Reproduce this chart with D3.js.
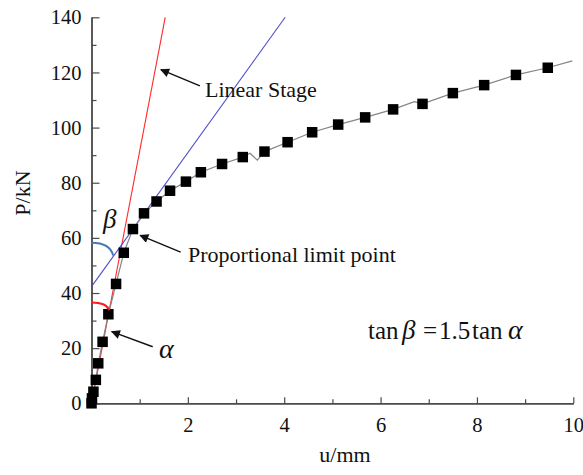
<!DOCTYPE html>
<html>
<head>
<meta charset="utf-8">
<script src="https://cdn.jsdelivr.net/npm/d3@7"></script>
<style>
  html, body { margin: 0; padding: 0; background: #fff; }
  svg { display: block; }
  text { font-family: "Liberation Serif", "Times New Roman", Times, Tinos, "DejaVu Serif", "Noto Serif", serif; fill: #111; }
</style>
</head>
<body>
<svg id="chart" width="583" height="475"></svg>
<script>
// Load–displacement test record (u in mm, P in kN)
const markerU = [0.00, 0.01, 0.04, 0.09, 0.14, 0.23, 0.35, 0.51, 0.67, 0.86, 1.09, 1.35, 1.63, 1.96, 2.27, 2.71, 3.14, 3.59, 4.07, 4.58, 5.12, 5.68, 6.26, 6.87, 7.50, 8.15, 8.81, 9.47];
const markerP = [0.0, 1.8, 4.2, 8.5, 14.5, 22.3, 32.3, 43.3, 54.6, 63.2, 68.9, 73.2, 77.1, 80.4, 83.8, 86.8, 89.3, 91.3, 94.7, 98.3, 101.1, 103.7, 106.6, 108.6, 112.5, 115.4, 119.1, 121.7];

// Continuous recorded curve (includes the small unloading dip and the tail)
const curveU = [0.00, 0.01, 0.04, 0.09, 0.14, 0.23, 0.35, 0.51, 0.67, 0.86, 1.09, 1.35, 1.63, 1.96, 2.27, 2.71, 3.14, 3.29, 3.44, 3.59, 4.07, 4.58, 5.12, 5.68, 6.26, 6.70, 6.87, 7.50, 8.15, 8.81, 9.47, 9.98];
const curveP = [0.0, 1.8, 4.2, 8.5, 14.5, 22.3, 32.3, 43.3, 54.6, 63.2, 68.9, 73.2, 77.1, 80.4, 83.8, 86.8, 89.3, 90.7, 88.2, 91.3, 94.7, 98.3, 101.1, 103.7, 106.6, 109.4, 108.6, 112.5, 115.4, 119.1, 121.7, 124.2];

// Fitted straight lines: linear stage (red) and secant through proportional limit (blue)
const linearU = [0, 1.53];
const linearP = [0, 140];
const secantU = [0, 4.02];
const secantP = [42.3, 140];

// Axis ticks
const xMajor = [2, 4, 6, 8, 10];
const xMinor = [1, 3, 5, 7, 9];
const yMajor = [0, 20, 40, 60, 80, 100, 120, 140];
const yMinor = [10, 30, 50, 70, 90, 110, 130];

const serif = '"Liberation Serif", "Times New Roman", Times, Tinos, "DejaVu Serif", "Noto Serif", serif';

const svg = d3.select("#chart");
const plotL = 91.5, plotR = 573.3, plotT = 17.3, plotB = 403.3;

const x = d3.scaleLinear().domain([0, 10]).range([plotL, plotR]);
const y = d3.scaleLinear().domain([0, 140]).range([plotB, plotT]);

const axisColor = "#4a4a4a";
const tickFont = 20.5;
const labelFont = 22;

// Axes with inward ticks
function styleAxis(g) {
  g.attr("font-family", serif);
  g.select(".domain").attr("stroke", axisColor).attr("stroke-width", 1.4);
  g.selectAll(".tick line").attr("stroke", axisColor).attr("stroke-width", 1.2);
  g.selectAll(".tick text").attr("font-size", tickFont).attr("fill", "#111");
}

svg.append("g").attr("transform", `translate(0,${plotB})`)
  .call(d3.axisBottom(x).tickValues(xMinor).tickSizeInner(-4).tickSizeOuter(0).tickFormat(""))
  .call(styleAxis);
svg.append("g").attr("transform", `translate(0,${plotB})`)
  .call(d3.axisBottom(x).tickValues(xMajor).tickSizeInner(-6).tickSizeOuter(0).tickPadding(14).tickFormat(d3.format("d")))
  .call(styleAxis);

svg.append("g").attr("transform", `translate(${plotL},0)`)
  .call(d3.axisLeft(y).tickValues(yMinor).tickSizeInner(-5).tickSizeOuter(0).tickFormat(""))
  .call(styleAxis);
svg.append("g").attr("transform", `translate(${plotL},0)`)
  .call(d3.axisLeft(y).tickValues(yMajor).tickSizeInner(-8).tickSizeOuter(0).tickPadding(10).tickFormat(d3.format("d")))
  .call(styleAxis);

// Axis titles
svg.append("text").attr("x", 345).attr("y", 462).attr("text-anchor", "middle")
  .attr("font-size", labelFont).text("u/mm");
svg.append("text").attr("transform", "translate(30,193) rotate(-90)")
  .attr("text-anchor", "middle").attr("font-size", labelFont).text("P/kN");

// Straight lines
const line = d3.line().x(d => x(d[0])).y(d => y(d[1]));
svg.append("path").datum(d3.zip(linearU, linearP)).attr("d", line)
  .attr("fill", "none").attr("stroke", "#ff2a2a").attr("stroke-width", 1.1);
svg.append("path").datum(d3.zip(secantU, secantP)).attr("d", line)
  .attr("fill", "none").attr("stroke", "#4c4cc8").attr("stroke-width", 1.1);

// Recorded curve and sampled markers
svg.append("path").datum(d3.zip(curveU, curveP)).attr("d", line)
  .attr("fill", "none").attr("stroke", "#858585").attr("stroke-width", 1.2);

const ms = 10.5;
svg.append("g").selectAll("rect").data(d3.zip(markerU, markerP)).join("rect")
  .attr("x", d => x(d[0]) - ms / 2).attr("y", d => y(d[1]) - ms / 2)
  .attr("width", ms).attr("height", ms).attr("fill", "#000");

// Angle arcs: from the P axis round to each fitted line
function angleArc(p0, u1, p1) {
  const x0 = x(0), y0 = y(p0), x1 = x(u1), y1 = y(p1);
  const pth = d3.path();
  pth.moveTo(x0, y0);
  pth.quadraticCurveTo(x0 + (x1 - x0) * 0.85, y0, x1, y1);
  return pth.toString();
}
svg.append("path").attr("d", angleArc(36.6, 0.37, 33.8))
  .attr("fill", "none").attr("stroke", "#ff1a1a").attr("stroke-width", 2);
svg.append("path").attr("d", angleArc(58.2, 0.45, 53.6))
  .attr("fill", "none").attr("stroke", "#4a78b4").attr("stroke-width", 2);

// Arrows
const defs = svg.append("defs");
defs.append("marker").attr("id", "head").attr("viewBox", "0 0 10 10")
  .attr("refX", 9).attr("refY", 5).attr("markerWidth", 14).attr("markerHeight", 9)
  .attr("markerUnits", "userSpaceOnUse").attr("orient", "auto")
  .append("path").attr("d", "M0,0 L10,5 L0,10 Z").attr("fill", "#111");

function arrow(u0, p0, u1, p1) {
  svg.append("line").attr("x1", x(u0)).attr("y1", y(p0)).attr("x2", x(u1)).attr("y2", y(p1))
    .attr("stroke", "#111").attr("stroke-width", 1.4).attr("marker-end", "url(#head)");
}
arrow(2.25, 115.1, 1.44, 121.0);   // Linear Stage
arrow(1.85, 54.8, 1.01, 60.9);     // Proportional limit point
arrow(1.27, 20.5, 0.42, 26.0);     // alpha

// Annotations
svg.append("text").attr("x", 205).attr("y", 97).attr("font-size", labelFont).text("Linear Stage");
svg.append("text").attr("x", 188).attr("y", 262).attr("font-size", labelFont).text("Proportional limit point");
svg.append("text").attr("x", 159).attr("y", 358).attr("font-size", 28).attr("font-style", "italic").text("α");
svg.append("text").attr("x", 103).attr("y", 228).attr("font-size", 27).attr("font-style", "italic").text("β");

// Relation between the two angles
const eq = svg.append("text").attr("y", 339).attr("font-size", 25);
eq.append("tspan").attr("x", 368).text("tan");
eq.append("tspan").attr("x", 402).attr("font-size", 27).attr("font-style", "italic").text("β");
eq.append("tspan").attr("x", 423).text("=");
eq.append("tspan").attr("x", 439).text("1.5");
eq.append("tspan").attr("x", 472).text("tan");
eq.append("tspan").attr("x", 508).attr("font-size", 28).attr("font-style", "italic").text("α");
</script>
</body>
</html>
